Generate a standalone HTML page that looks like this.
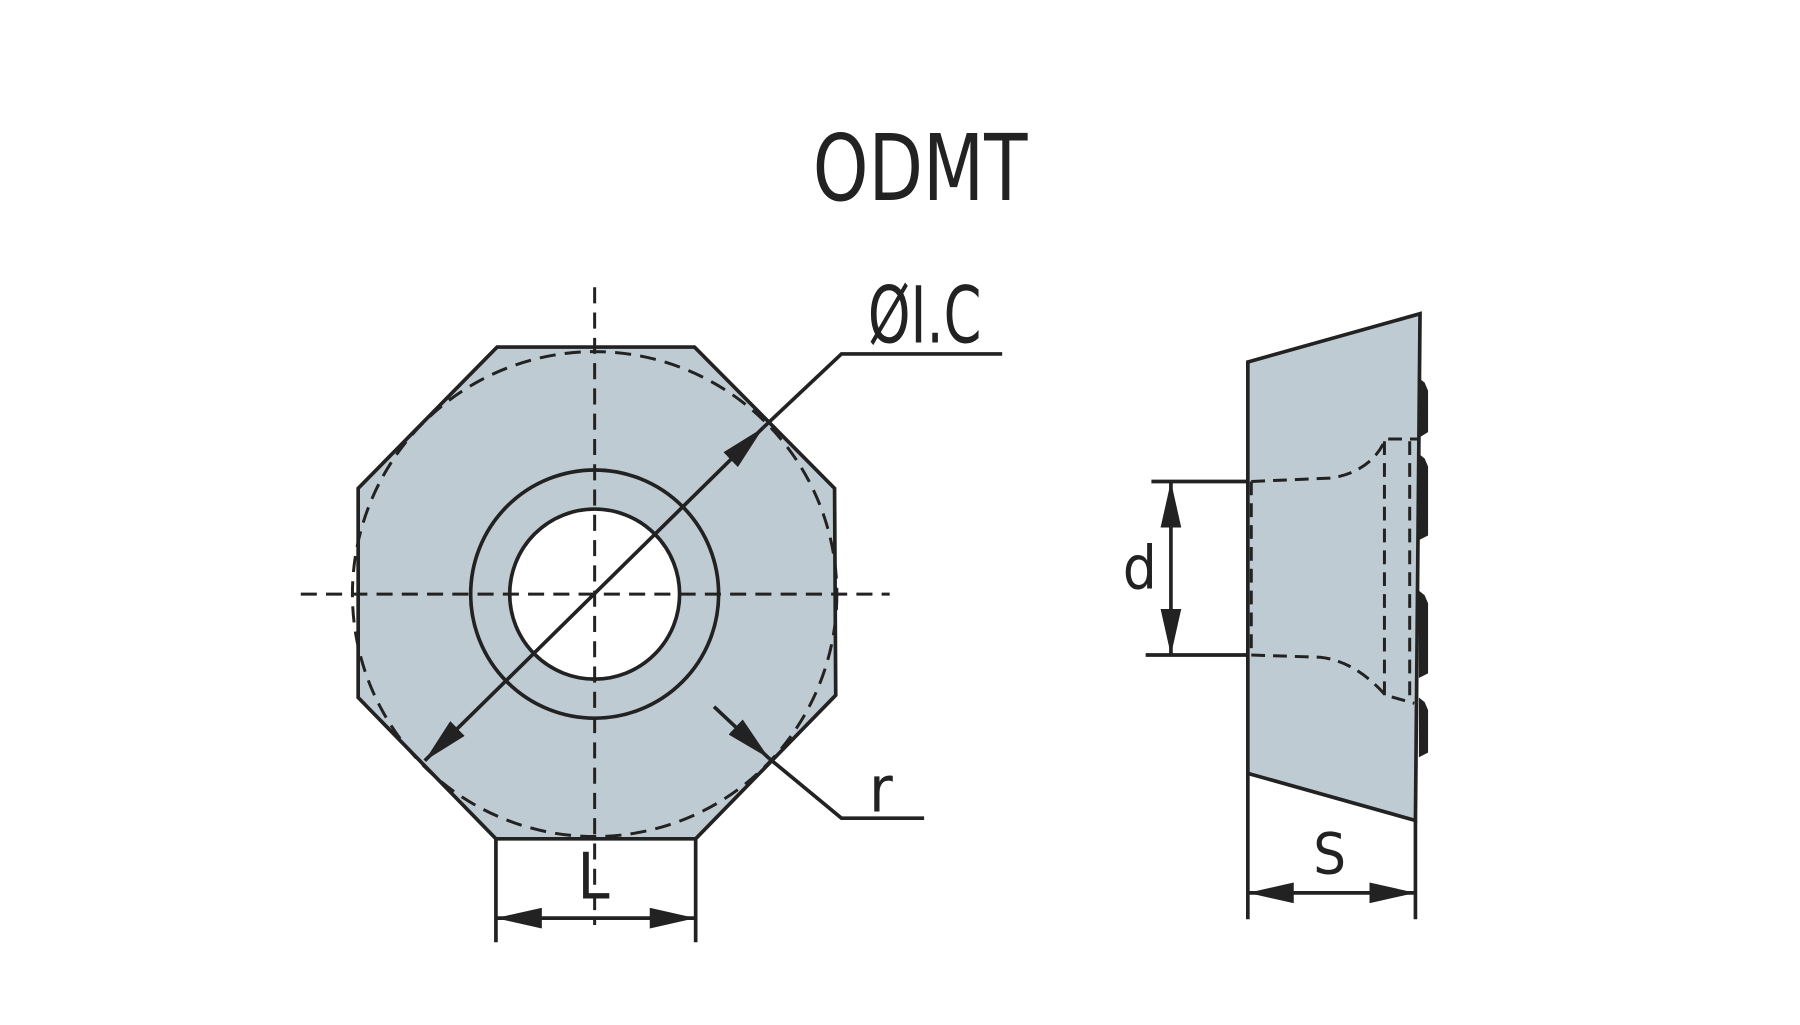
<!DOCTYPE html>
<html><head><meta charset="utf-8"><style>html,body{margin:0;padding:0;background:#fff}svg{display:block}</style></head>
<body>
<svg width="1800" height="1025" viewBox="0 0 1568 892" preserveAspectRatio="none" xmlns="http://www.w3.org/2000/svg">
<defs>
<marker id="b" viewBox="0 0 10 10" refX="10" refY="5" markerWidth="40" markerHeight="18" markerUnits="userSpaceOnUse" preserveAspectRatio="none" orient="auto-start-reverse"><path d="M0,0L10,5L0,10z" fill="#222"/></marker>
</defs>
<rect width="1568" height="892" fill="#fff"/>
<g stroke="#222" stroke-width="3.2" fill="none">
<polygon points="433,302 605,302 727,425 728,605 606,730 432,730 312,607 312,425" fill="#bfcbd2"/>
<circle cx="518" cy="517" r="108"/>
<circle cx="518" cy="517" r="74" fill="#fff"/>
<circle cx="518" cy="517" r="211" stroke-dasharray="14,8" stroke-width="2.6"/>
<line x1="518" y1="250" x2="518" y2="805" stroke-dasharray="14,8" stroke-width="2.6"/>
<line x1="262" y1="517" x2="775" y2="517" stroke-dasharray="14,8" stroke-width="2.6"/>
<line x1="370" y1="662" x2="665" y2="372" marker-start="url(#b)" marker-end="url(#b)"/>
<polyline points="665,372 733,308 873,308"/>
<line x1="622" y1="615" x2="670" y2="660" marker-end="url(#b)"/>
<polyline points="670,660 733,712 805,712"/>
<line x1="432" y1="730" x2="432" y2="820"/>
<line x1="606" y1="730" x2="606" y2="820"/>
<line x1="432" y1="799" x2="606" y2="799" marker-start="url(#b)" marker-end="url(#b)"/>
<polygon points="1087,315 1237,273 1233,714 1087,673" fill="#bfcbd2"/>
<line x1="1087" y1="673" x2="1087" y2="800"/>
<line x1="1233" y1="714" x2="1233" y2="800"/>
<line x1="1087" y1="777" x2="1233" y2="777" marker-start="url(#b)" marker-end="url(#b)"/>
<line x1="1003" y1="419" x2="1087" y2="419"/>
<line x1="998" y1="570" x2="1087" y2="570"/>
<line x1="1020" y1="419" x2="1020" y2="570" marker-start="url(#b)" marker-end="url(#b)"/>
<g stroke-dasharray="12,7" stroke-width="2.6">
<path d="M1090,419 L1160,416 Q1195,410 1207,382 L1235,382"/>
<path d="M1090,570 L1150,572 Q1180,575 1207,605 L1232,612"/>
<line x1="1090" y1="419" x2="1090" y2="570"/>
<line x1="1206" y1="384" x2="1206" y2="605"/>
<line x1="1228" y1="384" x2="1228" y2="610"/>
</g>
</g>
<g fill="#222">
<path d="M1236,329 L1241,333 L1244,340 L1244,376 L1236,381z"/>
<path d="M1236,395 L1241,399 L1244,406 L1244,466 L1236,470z"/>
<path d="M1236,514 L1241,518 L1244,525 L1244,586 L1236,590z"/>
<path d="M1236,607 L1241,611 L1244,618 L1244,655 L1236,659z"/>
</g>
<g font-family="'DejaVu Sans Condensed','DejaVu Sans','Liberation Sans',sans-serif" fill="#222">
<text x="708" y="174" font-size="80" textLength="187" lengthAdjust="spacingAndGlyphs">ODMT</text>
<text x="756" y="298" font-size="68" textLength="99" lengthAdjust="spacingAndGlyphs">ØI.C</text>
<text x="757" y="706" font-size="56">r</text>
<text x="503" y="782" font-size="56">L</text>
<text x="978" y="512" font-size="52">d</text>
<text x="1144" y="760" font-size="50">S</text>
</g>
</svg>
</body></html>
